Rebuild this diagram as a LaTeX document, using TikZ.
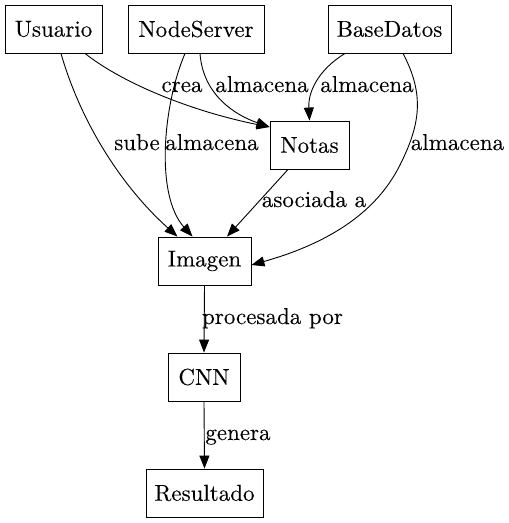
\documentclass[tikz,border=0pt]{standalone}
\usepackage{fontspec}
\setmainfont{lmroman10-regular.otf}[FakeBold=0.15]
\usetikzlibrary{arrows.meta}
\begin{document}
\begin{tikzpicture}[x=1pt,y=-1pt,
  box/.style={draw, line width=0.9pt, rectangle, inner sep=0pt, minimum height=48pt, font=\fontsize{23}{27}\selectfont},
  lbl/.style={inner sep=0pt, anchor=base, font=\fontsize{23}{27}\selectfont},
  edge/.style={line width=0.9pt, -{Triangle[length=13pt,width=10pt]}}]
\useasboundingbox (0,0) rectangle (509,523);
\node[box, minimum width=97pt] (U) at (53.5,29) {Usuario};
\node[box, minimum width=136pt] (NS) at (196,29) {NodeServer};
\node[box, minimum width=123pt] (B) at (389.5,29) {BaseDatos};
\node[box, minimum width=79pt] (N) at (309.5,145) {Notas};
\node[box, minimum width=93pt] (I) at (204.5,261) {Imagen};
\node[box, minimum width=72pt] (C) at (204,377) {CNN};
\node[box, minimum width=117pt] (R) at (204.5,493) {Resultado};
% labels
\node[lbl] (l1) at (137,150) {sube};
\node[lbl] (l2) at (182,92) {crea};
\node[lbl] (l3) at (212,150) {almacena};
\node[lbl] (l4) at (262,92) {almacena};
\node[lbl] (l5) at (367,92) {almacena};
\node[lbl] (l6) at (457.5,150) {almacena};
\node[lbl] (l7) at (314,207) {asociada a};
\node[lbl] (l8) at (272.5,324) {procesada por};
\node[lbl] (l9) at (238,440) {genera};
% edges
\draw[edge] ([xshift=7.5pt]U.south) .. controls (80,120) and (120,185) .. ([xshift=-27pt]I.north);
\draw[edge] ([xshift=31.5pt]U.south) .. controls (125,85) and (195,112) .. ([yshift=18pt]N.west);
\draw[edge] ([xshift=-11pt]NS.south) .. controls (163,105) and (155,195) .. ([xshift=-12pt]I.north);
\draw[edge] ([xshift=4pt]NS.south) .. controls (203,95) and (235,115) .. ([yshift=18pt]N.west);
\draw[edge] ([xshift=-44.5pt]B.south) .. controls (318,70) and (308,92) .. (N.north);
\draw[edge] ([xshift=13.5pt]B.south) .. controls (425,95) and (420,125) .. (400,165)
   .. controls (380,205) and (340,240) .. ([yshift=-4pt]I.east);
\draw[edge] ([xshift=-21.5pt]N.south) -- ([xshift=22.5pt]I.north);
\draw[edge] (I.south) -- (C.north);
\draw[edge] (C.south) -- (R.north);
\end{tikzpicture}
\end{document}
